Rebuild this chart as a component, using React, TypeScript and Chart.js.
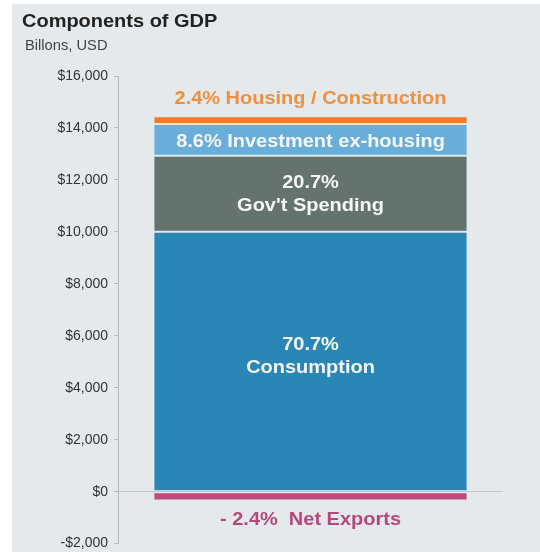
import React, { useEffect, useRef } from "react";
import { Chart, registerables } from "chart.js";

Chart.register(...registerables);

const chartTitle = "Components of GDP";
const chartSubtitle = "Billons, USD";
const categories = ["GDP"];
const seriesNames = ["Consumption", "Gov't Spending", "Investment ex-housing", "Housing / Construction", "Net Exports"];
const seriesValues = [10004, 2929, 1217, 300, -340];
const sharePercents = ["70.7%", "20.7%", "8.6%", "2.4%", "- 2.4%"];
const seriesColors = ["#2A86B4", "#65736F", "#69AED8", "#EE7C2E", "#B94B7D"];
const yTicks = [-2000, 0, 2000, 4000, 6000, 8000, 10000, 12000, 14000, 16000];

const STRETCH = 1.11;
const LABEL_FONT = "bold 18px 'Liberation Sans', Arial, sans-serif";

function drawText(ctx: CanvasRenderingContext2D, text: string, x: number, y: number, font: string, color: string, align: CanvasTextAlign = "center") {
  ctx.save();
  ctx.translate(x, y);
  ctx.scale(STRETCH, 1);
  ctx.font = font;
  ctx.fillStyle = color;
  ctx.textAlign = align;
  ctx.textBaseline = "middle";
  ctx.fillText(text, 0, 0);
  ctx.restore();
}

const backgroundPlugin = {
  id: "bg",
  beforeDraw(chart: any) {
    const ctx = chart.ctx as CanvasRenderingContext2D;
    ctx.save();
    ctx.fillStyle = "#ffffff";
    ctx.fillRect(0, 0, chart.width, chart.height);
    ctx.fillStyle = "#E6E9EC";
    ctx.fillRect(12, 4, chart.width - 12, chart.height - 4);
    ctx.restore();
  },
};

const labelsPlugin = {
  id: "segLabels",
  afterDatasetsDraw(chart: any) {
    const ctx = chart.ctx as CanvasRenderingContext2D;
    ctx.save();
    ctx.translate(22, 22);
    ctx.scale(STRETCH, 1);
    ctx.font = "bold 18px 'Liberation Sans', Arial, sans-serif";
    ctx.fillStyle = "#222222";
    ctx.textBaseline = "middle";
    ctx.fillText(chartTitle, 0, 0);
    ctx.restore();
    ctx.save();
    ctx.translate(25, 46);
    ctx.scale(1.05, 1);
    ctx.font = "14px 'Liberation Sans', Arial, sans-serif";
    ctx.fillStyle = "#444444";
    ctx.textBaseline = "middle";
    ctx.fillText(chartSubtitle, 0, 0);
    ctx.restore();

    seriesNames.forEach((name, i) => {
      const meta = chart.getDatasetMeta(i);
      const el = meta.data[0];
      if (!el) return;
      const top = Math.min(el.y, el.base);
      const bottom = Math.max(el.y, el.base);
      const cx = el.x;
      const mid = (top + bottom) / 2;
      const pct = sharePercents[i];
      if (i === 0 || i === 1) {
        const shift = i === 0 ? -5 : 0;
        drawText(ctx, pct, cx, mid - 11 + shift, LABEL_FONT, "#F4F6F8");
        drawText(ctx, name, cx, mid + 12 + shift, LABEL_FONT, "#F4F6F8");
      } else if (i === 2) {
        drawText(ctx, `${pct} ${name}`, cx, mid + 2, LABEL_FONT, "#F4F6F8");
      } else if (i === 3) {
        drawText(ctx, `${pct} ${name}`, cx, top - 17, LABEL_FONT, "#F0903F");
      } else {
        drawText(ctx, `${pct}  ${name}`, cx, bottom + 20, LABEL_FONT, "#B44A7C");
      }
    });
  },
};

function formatMoney(v: number): string {
  const abs = Math.abs(v).toLocaleString("en-US");
  return v < 0 ? `-$${abs}` : `$${abs}`;
}

export default function App() {
  const canvasRef = useRef<HTMLCanvasElement | null>(null);

  useEffect(() => {
    if (!canvasRef.current) return;
    const chart = new Chart(canvasRef.current, {
      type: "bar",
      data: {
        labels: categories,
        datasets: seriesNames.map((name, i) => ({
          label: name,
          data: [seriesValues[i]],
          backgroundColor: seriesColors[i],
          borderColor: "rgba(215,232,242,0.85)",
          borderWidth: 1,
          borderSkipped: false,
          stack: "gdp",
          barPercentage: 0.816,
          categoryPercentage: 1,
        })),
      },
      options: {
        animation: false,
        responsive: true,
        maintainAspectRatio: false,
        layout: { padding: { top: 76, bottom: 4, left: 0, right: 37 } },
        plugins: {
          legend: { display: false },
          tooltip: { enabled: false },
          title: { display: false },
        },
        scales: {
          x: { display: false, stacked: true },
          y: {
            stacked: true,
            min: yTicks[0],
            max: yTicks[yTicks.length - 1],
            afterBuildTicks: (scale: any) => {
              scale.ticks = yTicks.map((v) => ({ value: v }));
            },
            afterFit: (scale: any) => {
              scale.width = 118;
            },
            ticks: {
              padding: 6,
              color: "#333333",
              font: { family: "'Liberation Sans', Arial, sans-serif", size: 14 },
              callback: (v: any) => formatMoney(Number(v)),
            },
            grid: {
              color: (c: any) => (c.tick && c.tick.value === 0 ? "#C6CACE" : "rgba(0,0,0,0)"),
              tickColor: "#B5B9BD",
              tickLength: 4,
            },
            border: { color: "#B5B9BD", width: 1 },
          },
        },
      },
      plugins: [backgroundPlugin, labelsPlugin],
    });
    return () => chart.destroy();
  }, []);

  return (
    <div style={{ position: "fixed", left: 0, top: 0, width: 540, height: 552, overflow: "hidden" }}>
      <div style={{ position: "relative", width: 540, height: 558 }}>
        <canvas ref={canvasRef} />
      </div>
    </div>
  );
}
